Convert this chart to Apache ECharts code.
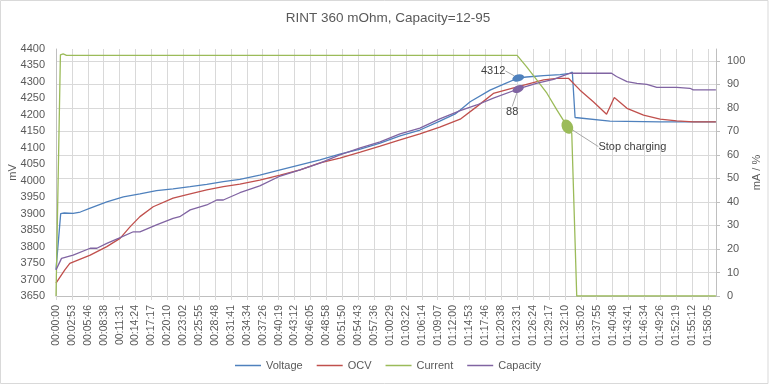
<!DOCTYPE html>
<html><head><meta charset="utf-8">
<script src="https://cdn.jsdelivr.net/npm/echarts@6/dist/echarts.min.js"></script>
<style>html,body{margin:0;padding:0;background:#fff}#c{width:776px;height:390px}</style>
</head><body><div id="c"></div><script>
// ---- tick labels (x axis, one every 2.88 min) ----
const xTickLabels = ['00:00:00','00:02:53','00:05:46','00:08:38','00:11:31','00:14:24','00:17:17','00:20:10','00:23:02','00:25:55','00:28:48','00:31:41','00:34:34','00:37:26','00:40:19','00:43:12','00:46:05','00:48:58','00:51:50','00:54:43','00:57:36','01:00:29','01:03:22','01:06:14','01:09:07','01:12:00','01:14:53','01:17:46','01:20:38','01:23:31','01:26:24','01:29:17','01:32:10','01:35:02','01:37:55','01:40:48','01:43:41','01:46:34','01:49:26','01:52:19','01:55:12','01:58:05'];
const tickStepMin = 2.88;
const xMaxMin = 119.52;

// ---- series (time in minutes) ----
const voltageT = [0, 0.85, 1.5, 3.1, 4.4, 6.2, 9.2, 12.2, 15.2, 18.2, 21.2, 24.3, 27.3, 30.3, 33.3, 36.9, 40.6, 44.2, 47.8, 51.4, 55.1, 58.7, 62.3, 65.9, 69.5, 72.3, 73.2, 75.0, 78.6, 81.3, 83.7, 85.2, 88.3, 91.3, 93.1, 93.5, 94.0, 94.3, 100.3, 109.4, 119.5];
const voltageV = [3730, 3900, 3902, 3901, 3905, 3917, 3936, 3951, 3960, 3970, 3975, 3982, 3989, 3997, 4004, 4017, 4033, 4048, 4063, 4081, 4096, 4114, 4136, 4154, 4181, 4203, 4215, 4240, 4275, 4295, 4312, 4315, 4319, 4322, 4326, 4330, 4192, 4189, 4181, 4179, 4179];

const ocvT = [0, 1.6, 2.5, 6.2, 9.2, 11.6, 13.4, 15.2, 17.6, 21.2, 24.3, 27.3, 30.3, 33.3, 36.9, 40.6, 44.2, 47.8, 51.4, 55.1, 58.7, 62.3, 65.9, 69.5, 73.2, 76.2, 79.2, 83.7, 88.3, 90.7, 92.8, 93.1, 94.9, 97.3, 99.7, 100.0, 101.1, 103.4, 106.4, 109.4, 112.4, 115.4, 119.5];
const ocvV = [3689, 3729, 3749, 3774, 3800, 3825, 3860, 3891, 3921, 3947, 3960, 3972, 3982, 3990, 4002, 4017, 4033, 4054, 4069, 4087, 4105, 4124, 4142, 4163, 4187, 4225, 4265, 4286, 4306, 4311, 4311, 4313, 4275, 4240, 4202, 4199, 4253, 4220, 4199, 4187, 4182, 4179, 4179];

const currentT = [0, 0.8, 1.3, 1.9, 83.5, 85.2, 87.1, 88.9, 90.7, 92.6, 93.4, 94.3, 119.5];
const currentV = [0, 102.5, 102.9, 102.3, 102.3, 97.5, 91.8, 86.2, 79.1, 72, 69.2, 0, 0];

const capacityT = [0, 1.0, 3.1, 6.2, 7.4, 9.2, 11.3, 14.0, 15.2, 18.2, 21.2, 22.4, 24.3, 27.3, 29.1, 30.3, 33.3, 36.9, 40.6, 44.2, 47.8, 51.4, 55.1, 58.7, 62.3, 65.9, 69.5, 73.2, 76.2, 79.2, 83.7, 87.0, 90.1, 93.1, 100.6, 101.5, 103.4, 105.2, 107.0, 108.8, 112.4, 114.8, 115.4, 119.5];
const capacityV = [11.1, 16.0, 17.4, 20.3, 20.3, 22.4, 24.5, 27.3, 27.3, 30.2, 33.0, 33.7, 36.6, 38.7, 40.8, 40.8, 43.9, 46.8, 51.0, 53.6, 56.5, 60.0, 63.0, 65.5, 68.9, 71.4, 75.3, 78.8, 81.2, 84.1, 88, 90.4, 92.1, 94.7, 94.7, 93.3, 91.1, 90.4, 90.0, 88.7, 88.7, 88.3, 87.6, 87.6];

// ---- annotations (which point, which text) ----
const annotations = {
  Voltage:  {t: 83.7, text: '4312'},
  Capacity: {t: 83.7, text: '88'},
  Current:  {t: 92.6, text: 'Stop charging'}
};

// ---- styles ----
const annStyle = {
  Voltage:  {size: [12, 7], rotate: 15, dx: -25, dy: -7},
  Capacity: {size: [12, 7], rotate: 25, dx: -6, dy: 23},
  Current:  {size: [15, 11], rotate: -65, dx: 65, dy: 20}
};
const colors = {Voltage: '#4F81BD', OCV: '#C0504D', Current: '#9BBB59', Capacity: '#8064A2'};
const FONT = 'Liberation Sans';

function buildData(name, T, V) {
  const ann = annotations[name];
  return T.map((t, i) => {
    if (ann && t === ann.t) {
      const st = annStyle[name];
      return {
        value: [t, V[i]], symbol: 'circle', symbolSize: st.size, symbolRotate: st.rotate,
        itemStyle: {color: colors[name]},
        label: {show: true, position: 'inside', formatter: ann.text, color: '#404040', fontSize: 11, fontFamily: FONT}
      };
    }
    return [t, V[i]];
  });
}
function mkSeries(name, T, V, yIdx) {
  const st = annStyle[name];
  return {
    name, type: 'line', yAxisIndex: yIdx, data: buildData(name, T, V),
    symbol: 'none', showSymbol: true, showAllSymbol: true,
    lineStyle: {color: colors[name], width: 1.3},
    itemStyle: {color: colors[name]},
    emphasis: {disabled: true}, silent: true,
    labelLine: {show: true, lineStyle: {color: '#a6a6a6', width: 1}},
    labelLayout: st ? (() => ({dx: st.dx, dy: st.dy})) : undefined
  };
}

const chart = echarts.init(document.getElementById('c'), null, {renderer: 'canvas'});
chart.setOption({
  animation: false,
  textStyle: {fontFamily: FONT},
  title: {text: 'RINT 360 mOhm, Capacity=12-95', left: 'center', top: 11, padding: 0,
    textStyle: {fontSize: 13.5, fontWeight: 'normal', color: '#595959', fontFamily: FONT}},
  legend: {bottom: 14, left: 'center', icon: 'rect', itemWidth: 26, itemHeight: 1.5, itemGap: 14,
    textStyle: {fontSize: 11, color: '#595959', fontFamily: FONT},
    data: ['Voltage', 'OCV', 'Current', 'Capacity']},
  grid: {left: 56, right: 60, top: 49, bottom: 94, containLabel: false, outerBoundsMode: 'none'},
  graphic: [{type: 'rect', shape: {x: 0.5, y: 0.5, width: 767.5, height: 383}, style: {fill: 'none', stroke: '#d9d9d9', lineWidth: 1}, silent: true}],
  xAxis: {
    type: 'value', min: 0, max: xMaxMin, interval: tickStepMin,
    axisLine: {show: true, lineStyle: {color: '#bfbfbf'}},
    axisTick: {show: true, length: 4, lineStyle: {color: '#d9d9d9'}},
    splitLine: {show: true, lineStyle: {color: '#d9d9d9', width: 1}},
    axisLabel: {rotate: 90, fontSize: 10.5, color: '#595959', margin: 9, showMaxLabel: false, fontFamily: FONT,
      formatter: v => xTickLabels[Math.round(v / tickStepMin)] || ''}
  },
  yAxis: [
    {type: 'value', min: 3650, max: 4400, interval: 50, name: 'mV', nameLocation: 'middle', nameGap: 38, nameRotate: 90,
     nameMoveOverlap: false,
     nameTextStyle: {fontSize: 11, color: '#595959', fontFamily: FONT},
     axisLine: {show: true, lineStyle: {color: '#bfbfbf'}}, axisTick: {show: false}, splitLine: {show: false},
     axisLabel: {fontSize: 11, color: '#595959', margin: 11, fontFamily: FONT, formatter: v => String(v)}},
    {type: 'value', min: 0, max: 105, interval: 10, position: 'right', name: 'mA / %', nameLocation: 'middle', nameGap: 35, nameRotate: 90,
     nameMoveOverlap: false,
     nameTextStyle: {fontSize: 11, color: '#595959', fontFamily: FONT},
     axisLine: {show: true, lineStyle: {color: '#bfbfbf'}}, axisTick: {show: true, length: 4, lineStyle: {color: '#bfbfbf'}},
     splitLine: {show: true, showMaxLine: false, lineStyle: {color: '#d9d9d9', width: 1}},
     axisLabel: {fontSize: 11, color: '#595959', margin: 11, showMaxLabel: false, fontFamily: FONT, formatter: v => String(v)}}
  ],
  series: [
    mkSeries('Voltage', voltageT, voltageV, 0),
    mkSeries('OCV', ocvT, ocvV, 0),
    mkSeries('Current', currentT, currentV, 1),
    mkSeries('Capacity', capacityT, capacityV, 1)
  ]
});
</script></body></html>
